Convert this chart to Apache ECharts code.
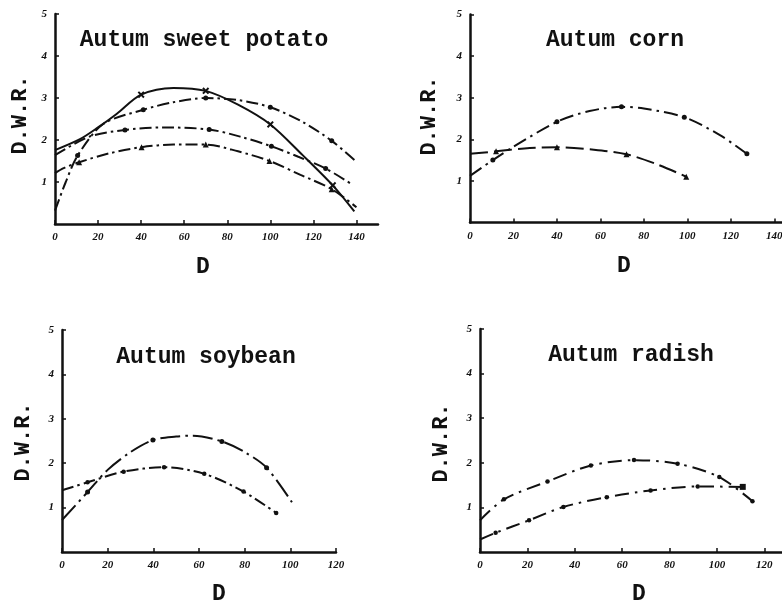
<!DOCTYPE html>
<html><head><meta charset="utf-8">
<script src="https://cdn.jsdelivr.net/npm/echarts@6/dist/echarts.min.js"></script>
<style>html,body{margin:0;padding:0;background:#fff}#c{width:782px;height:604px}</style>
</head><body><div id="c"></div>
<script>
// ---- Data (x = D, y = D.W.R.) ----
const titles = ["Autum sweet potato", "Autum corn", "Autum soybean", "Autum radish"];
const xMax = [150, 150, 120, 130];
const yTicks = [0, 1, 2, 3, 4, 5];

// Autum sweet potato
const potatoSolid = [[0,1.76],[11.6,2.02],[20,2.3],[28.6,2.62],[40,3.08],[55,3.24],[70,3.17],[85,2.84],[100,2.37],[115,1.64],[129,0.92],[139,0.3]];
const potatoSolidMarks = [4,6,8,10];
const potatoHigh = [[0,0.32],[5,1.0],[10.5,1.63],[22.4,2.38],[41,2.72],[55,2.9],[70,3.0],[85,2.95],[100,2.78],[115,2.43],[128.5,1.98],[140,1.48]];
const potatoHighMarks = [2,4,6,8,10];
const potatoMid = [[0,1.64],[16,2.08],[32.5,2.24],[50,2.3],[71.6,2.25],[86,2.08],[100.5,1.85],[113,1.6],[125.7,1.32],[137.7,0.95]];
const potatoMidMarks = [2,4,6,8];
const potatoLow = [[0,1.21],[4,1.33],[11.2,1.47],[25,1.68],[40.2,1.83],[55,1.89],[70,1.89],[85,1.73],[99.6,1.5],[114,1.17],[128.5,0.83],[140,0.4]];
const potatoLowMarks = [2,4,6,8,10];

// Autum corn
const cornHigh = [[0,1.12],[10.5,1.5],[20,1.82],[40,2.42],[55,2.68],[69.7,2.78],[80,2.74],[98.6,2.53],[115,2.1],[127.4,1.65]];
const cornHighMarks = [1,3,5,7,9];
const cornLow = [[0,1.65],[12,1.71],[25,1.78],[40,1.81],[57,1.75],[72,1.64],[86,1.4],[99.5,1.1]];
const cornLowMarks = [1,3,5,7];

// Autum soybean
const soyHigh = [[0,0.72],[11.2,1.35],[20,1.85],[30,2.25],[39.8,2.52],[50,2.6],[57.4,2.62],[70,2.49],[80,2.25],[89.6,1.9],[100.7,1.12]];
const soyHighMarks = [1,4,7,9];
const soyLow = [[0,1.39],[11.2,1.57],[27,1.81],[44.7,1.91],[62.3,1.76],[79.5,1.36],[93.8,0.88]];
const soyLowMarks = [1,2,3,4,5,6];

// Autum radish
const radishHigh = [[0,0.71],[10.1,1.18],[28.5,1.58],[46.8,1.94],[65,2.06],[83.4,1.98],[101,1.68],[115,1.14]];
const radishHighMarks = [1,2,3,4,5,6,7];
const radishLow = [[0,0.28],[6.6,0.43],[20.7,0.71],[35.2,1.01],[53.5,1.23],[72,1.38],[91.9,1.47],[110.9,1.46]];
const radishLowMarks = [1,2,3,4,5,6,7];

// ---- Chart ----
const INK = '#111';
const MONO = '"Liberation Mono", "DejaVu Sans Mono", monospace';
const XSYM = 'path://M0,2L2,0L5,3L8,0L10,2L7,5L10,8L8,10L5,7L2,10L0,8L3,5Z';
const DASHDOT = [12,4,2.5,4];

function mk(pts, marks, idx, sym, dash, size) {
  return {
    type: 'line', xAxisIndex: idx, yAxisIndex: idx, smooth: 0.3,
    lineStyle: {color: INK, width: 2, type: dash},
    itemStyle: {color: INK},
    symbolSize: size || 5,
    silent: true, animation: false,
    data: pts.map((p, i) => ({value: p, symbol: marks.includes(i) ? sym : 'none'}))
  };
}

const grids = [
  {left: 55, top: 14, width: 323, height: 210},
  {left: 470, top: 14.5, width: 326, height: 208},
  {left: 62, top: 330, width: 274, height: 222},
  {left: 480, top: 329, width: 308, height: 223}
].map(g => Object.assign(g, {containLabel: false, outerBoundsMode: 'none'}));

const xAxes = grids.map((g, i) => ({
  type: 'value', gridIndex: i, min: 0, max: xMax[i], interval: 20,
  splitLine: {show: false},
  axisLine: {lineStyle: {color: INK, width: 2.5}},
  axisTick: {inside: true, length: 4, lineStyle: {color: INK, width: 1.5}},
  axisLabel: {color: INK, fontFamily: '"Liberation Serif", serif', fontStyle: 'italic', fontWeight: 'bold', fontSize: 11, margin: 8,
    showMaxLabel: xMax[i] % 20 === 0, hideOverlap: false}
}));
const yAxes = grids.map((g, i) => ({
  type: 'value', gridIndex: i, min: yTicks[0], max: yTicks[yTicks.length - 1], interval: 1,
  splitLine: {show: false},
  axisLine: {lineStyle: {color: INK, width: 2.5}},
  axisTick: {inside: true, length: 4, lineStyle: {color: INK, width: 1.5}},
  axisLabel: {color: INK, fontFamily: '"Liberation Serif", serif', fontStyle: 'italic', fontWeight: 'bold', fontSize: 11, margin: 8,
    showMinLabel: false}
}));

const series = [
  mk(potatoSolid, potatoSolidMarks, 0, XSYM, 'solid', 7),
  mk(potatoHigh, potatoHighMarks, 0, 'circle', DASHDOT),
  mk(potatoMid, potatoMidMarks, 0, 'circle', DASHDOT),
  mk(potatoLow, potatoLowMarks, 0, 'triangle', DASHDOT, 6),
  mk(cornHigh, cornHighMarks, 1, 'circle', [14,5,2.5,5]),
  mk(cornLow, cornLowMarks, 1, 'triangle', [18,6], 6),
  mk(soyHigh, soyHighMarks, 2, 'circle', [20,5,2.5,5]),
  mk(soyLow, soyLowMarks, 2, 'circle', DASHDOT, 4.5),
  mk(radishHigh, radishHighMarks, 3, 'circle', [14,6,2.5,6], 4.5),
  mk(radishLow, radishLowMarks, 3, 'circle', [14,6,2.5,6], 4.5)
];
// last radish-low point is a square
series[9].data[7].symbol = 'rect';
series[9].data[7].symbolSize = 6;

function txt(s, x, y, size, rot) {
  return {type: 'text', x: x, y: y, rotation: rot || 0, silent: true,
    style: {text: s, fill: INK, font: 'bold ' + size + 'px ' + MONO, textAlign: 'center', textVerticalAlign: 'middle'}};
}
const titlePos = [[204,40],[615,40],[206,357],[631,355]];
const yNamePos = [[20,115],[429,116],[23,442],[441,443]];
const xNamePos = [[203,267],[624,266],[219,594],[639,594]];
const graphics = [];
titles.forEach((t, i) => {
  graphics.push(txt(t, titlePos[i][0], titlePos[i][1], 23));
  graphics.push(txt('D.W.R.', yNamePos[i][0], yNamePos[i][1], 22, Math.PI / 2));
  graphics.push(txt('D', xNamePos[i][0], xNamePos[i][1], 23));
});

const chart = echarts.init(document.getElementById('c'), null, {renderer: 'canvas'});
chart.setOption({
  animation: false,
  backgroundColor: '#fff',
  grid: grids,
  xAxis: xAxes,
  yAxis: yAxes,
  series: series,
  graphic: graphics
});
</script></body></html>
